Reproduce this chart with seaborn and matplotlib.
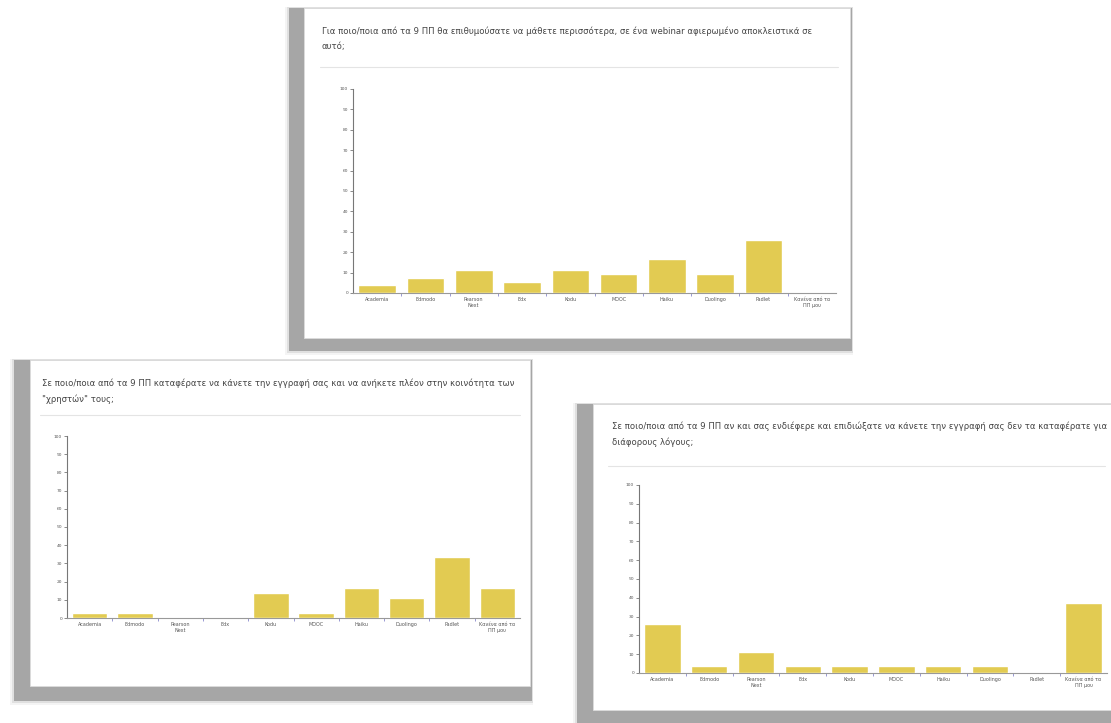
import matplotlib
matplotlib.use("Agg")
import matplotlib.pyplot as plt
from matplotlib.patches import Rectangle
from matplotlib.lines import Line2D
import seaborn as sns
import pandas as pd

# Category labels shared by the three survey questions
categories = ["Academia", "Edmodo", "Pearson\nNext", "Edx", "Kodu", "MOOC",
              "Haiku", "Duolingo", "Padlet", "Κανένα από τα\nΠΠ μου"]

# Percentages of respondents per question
webinar_pct = [3.7, 7.4, 11.1, 5.6, 11.1, 9.3, 16.7, 9.3, 25.9, 0.0]
registered_pct = [2.8, 2.8, 0.0, 0.0, 13.9, 2.8, 16.7, 11.1, 33.3, 16.7]
failed_pct = [25.9, 3.7, 11.1, 3.7, 3.7, 3.7, 3.7, 3.7, 0.0, 37.0]

titles = [
    "Για ποιο/ποια από τα 9 ΠΠ θα επιθυμούσατε να μάθετε περισσότερα, σε ένα webinar αφιερωμένο αποκλειστικά σε\nαυτό;",
    "Σε ποιο/ποια από τα 9 ΠΠ καταφέρατε να κάνετε την εγγραφή σας και να ανήκετε πλέον στην κοινότητα των\n\"χρηστών\" τους;",
    "Σε ποιο/ποια από τα 9 ΠΠ αν και σας ενδιέφερε και επιδιώξατε να κάνετε την εγγραφή σας δεν τα καταφέρατε για\nδιάφορους λόγους;",
]

yticks = list(range(0, 101, 10))

sns.set_theme(style="ticks")
plt.rcParams["font.family"] = ["DejaVu Sans"]

W, H = 1111, 723
fig = plt.figure(figsize=(W / 100, H / 100), dpi=100)
fig.patch.set_facecolor("white")

BAR = "#E2CB52"
SHADOW = "#a6a6a6"


def fx(x):
    return x / W


def fy(y):
    return 1 - y / H


def rect(x0, y0, x1, y1, **kw):
    fig.add_artist(Rectangle((fx(x0), fy(y1)), fx(x1) - fx(x0), fy(y0) - fy(y1),
                             transform=fig.transFigure, **kw))


def hline(x0, x1, y, color="#e4e4e4", lw=0.8):
    fig.add_artist(Line2D([fx(x0), fx(x1)], [fy(y), fy(y)], transform=fig.transFigure,
                          color=color, lw=lw))


def soft_shadow(x0, y0, x1, y1):
    # a few widening translucent layers give the shadow a soft edge
    for grow, alpha in ((4, 0.12), (2, 0.25), (0, 1.0)):
        rect(x0 - grow, y0 - grow * 0.3, x1 + grow * 0.3, y1 + grow,
             facecolor=SHADOW, edgecolor="none", alpha=alpha, zorder=0)


# card geometry: shadow box, card box, title position, separator, plot area
cards = [
    dict(shadow=(289, 8, 852, 351), card=(304, 8, 850, 338), title=(322, 26), sep=(320, 838, 67),
         ax=(353, 89, 836, 293), values=webinar_pct, title_text=titles[0]),
    dict(shadow=(14, 360, 532, 701), card=(30, 360, 530, 686), title=(42, 378), sep=(40, 520, 415),
         ax=(67, 436, 520, 618), values=registered_pct, title_text=titles[1]),
    dict(shadow=(577, 404, 1111, 723), card=(593, 404, 1111, 710), title=(612, 421), sep=(608, 1105, 466),
         ax=(639, 485, 1107, 673), values=failed_pct, title_text=titles[2]),
]

for c in cards:
    soft_shadow(*c["shadow"])
    x0, y0, x1, y1 = c["card"]
    rect(x0, y0, x1, y1, facecolor="white", edgecolor="#dcdcdc", lw=0.6, zorder=1)
    tx, ty = c["title"]
    fig.text(fx(tx), fy(ty), c["title_text"], fontsize=6.1, color="#444444",
             va="top", ha="left", linespacing=1.9, zorder=3)
    sx0, sx1, sy = c["sep"]
    hline(sx0, sx1, sy)

    ax0, ay0, ax1, ay1 = c["ax"]
    ax = fig.add_axes([fx(ax0), fy(ay1), fx(ax1) - fx(ax0), fy(ay0) - fy(ay1)], zorder=4)
    ax.patch.set_alpha(0)
    df = pd.DataFrame({"category": categories, "pct": c["values"]})
    sns.barplot(data=df, x="category", y="pct", color=BAR, saturation=1, width=0.78,
                ax=ax, zorder=3)
    ax.set_ylim(0, 100)
    ax.set_xlim(-0.5, len(categories) - 0.5)
    ax.set_yticks(yticks)
    ax.set_yticklabels([str(v) for v in yticks], fontsize=3.2, color="#555555")
    ax.set_xticks([i + 0.5 for i in range(len(categories) - 1)], minor=True)
    ax.set_xticks(range(len(categories)))
    ax.set_xticklabels(categories, fontsize=3.5, color="#555555", linespacing=1.1)
    ax.tick_params(axis="x", which="major", length=0, pad=3)
    ax.tick_params(axis="x", which="minor", length=2, color="#8888cc", width=0.6)
    ax.tick_params(axis="y", length=2, width=0.6, color="#777777", pad=1.5)
    ax.set_xlabel("")
    ax.set_ylabel("")
    for side in ("top", "right"):
        ax.spines[side].set_visible(False)
    ax.spines["left"].set_color("#777777")
    ax.spines["left"].set_linewidth(0.8)
    ax.spines["bottom"].set_color("#999999")
    ax.spines["bottom"].set_linewidth(0.8)

fig.savefig("out.png", dpi=100, facecolor="white")
